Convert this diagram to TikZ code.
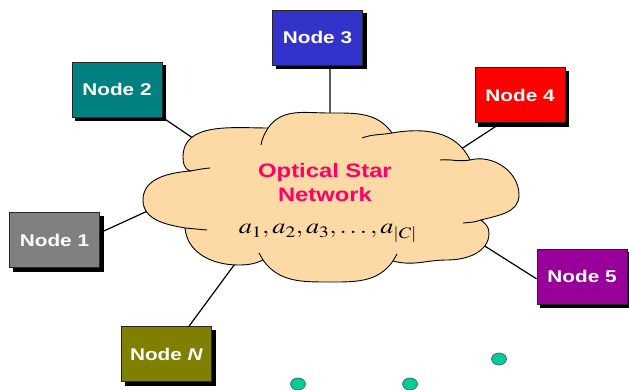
\documentclass[tikz,border=0pt]{standalone}
\usepackage{mathptmx}
\usepackage[no-math]{fontspec}
\setmainfont{Liberation Sans}[FakeStretch=1.22]
\usepackage{graphicx}
\definecolor{nodeGray}{HTML}{808080}
\definecolor{nodeTeal}{HTML}{008080}
\definecolor{nodeBlue}{HTML}{3333CC}
\definecolor{nodeRed}{HTML}{FF0000}
\definecolor{nodePurple}{HTML}{990099}
\definecolor{nodeOlive}{HTML}{808000}
\definecolor{cloudTan}{HTML}{FDD9A5}
\definecolor{starPink}{HTML}{FF0066}
\definecolor{dotGreen}{HTML}{00CC99}
\newcommand{\WideMath}[1]{\scalebox{1.22}[1]{#1}}

\begin{document}
\begin{tikzpicture}[x=1pt, y=1pt,
		nodebox/.style={rectangle, draw=black!85, line width=0.8pt, text=white, font=\fontsize{17}{20}\selectfont\bfseries, minimum width=90pt, minimum height=55pt, inner sep=0pt, preaction={fill=black, draw=black, transform canvas={xshift=3.5pt, yshift=-3.5pt}}},
		link/.style={draw=black, line width=1.2pt},
		cloudline/.style={draw=black, line width=0.9pt},
		dot/.style={draw=black!70, line width=0.6pt, fill=dotGreen}
	]
		\useasboundingbox (0,0) rectangle (629,390);
		\clip (0,0) rectangle (629,390);
		% the stations round the star
		\node[nodebox, fill=nodeGray] (n1) at (54.5,150) {Node 1};
		\node[nodebox, fill=nodeTeal] (n2) at (117,300.5) {Node 2};
		\node[nodebox, fill=nodeBlue] (n3) at (317.5,352.5) {Node 3};
		\node[nodebox, fill=nodeRed] (n4) at (520,295) {Node 4};
		\node[nodebox, fill=nodePurple] (n5) at (582,113.5) {Node 5};
		\node[nodebox, fill=nodeOlive] (nN) at (166.5,36) {Node \textit{N}};
		% where the fibres meet the cloud
		\coordinate (c1) at (152,181);
		\coordinate (c2) at (206,243);
		\coordinate (c3) at (330,272);
		\coordinate (c4) at (455,237);
		\coordinate (c5) at (480,147);
		\coordinate (cN) at (240,133);
		\draw[link] (n1.9) -- (c1);
		\draw[link] (n2.south east) -- (c2);
		\draw[link] (n3.294) -- (c3);
		\draw[link] (n4.236) -- (c4);
		\draw[link] (n5.183) -- (c5);
		\draw[link] (nN.51) -- (cN);
		% the star coupler
		\draw[cloudline, fill=cloudTan] (268,262) to[out=55,in=180] (329,277) to[out=0,in=125] (392,257)
			to[out=10,in=115] (470,230)
			to[out=15,in=90] (519,195) to[out=-90,in=15] (481,170)
			to[out=-40,in=90] (489,157) to[out=-90,in=0] (447,130) to[out=180,in=-15] (393,129)
			to[out=-125,in=0] (327,108) to[out=180,in=-55] (263,130)
			to[out=-155,in=0] (238,125) to[out=180,in=-85] (185,162)
			to[out=170,in=-90] (143,190) to[out=90,in=185] (190,219)
			to[out=160,in=-90] (183,233) to[out=90,in=180] cycle;
		\draw[cloudline] (261,245) to[out=80,in=-120] (268,262);
		\draw[cloudline] (362,252) to[out=20,in=190] (392,257);
		\draw[cloudline] (440,230) to[out=5,in=190] (470,230);
		\draw[cloudline] (481,170) to[out=-160,in=5] (463,167);
		\draw[cloudline] (393,129) to[out=55,in=-115] (397,136);
		\draw[cloudline] (263,130) to[out=125,in=-65] (259,137);
		\draw[cloudline] (185,162) to[out=-5,in=175] (207,160);
		\draw[cloudline] (190,219) to[out=10,in=185] (210,222);
		\node[font=\fontsize{19.5}{24}\selectfont\bfseries, text=starPink, align=center] (title) at (325,207) {Optical Star\\Network};
		\node[font=\fontsize{21.5}{26}\selectfont, anchor=base] (labels) at (328,156) {\WideMath{$a_1, a_2, a_3, \ldots, a_{|C|}$}};
		% more stations further on
		\draw[dot] (499,31) ellipse (7.5 and 6);
		\draw[dot] (298,6) ellipse (7.5 and 6);
		\draw[dot] (410,6) ellipse (7.5 and 6);
	\end{tikzpicture}
\end{document}
